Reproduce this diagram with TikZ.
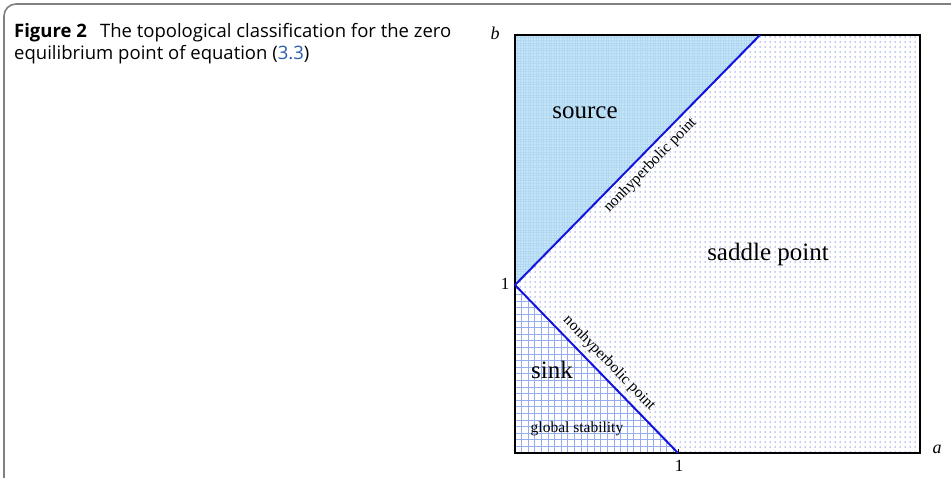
\documentclass[tikz,border=0pt]{standalone}
\usepackage{fontspec}
\setmainfont{Liberation Serif}
\newfontfamily\capfont{Open Sans}
\usetikzlibrary{patterns.meta}
\definecolor{srcblue}{HTML}{C5E5F8}
\definecolor{srcline}{HTML}{B2D8F2}
\definecolor{gridblue}{HTML}{96AEEE}
\definecolor{dotblue}{HTML}{7C93E6}
\definecolor{lineblue}{HTML}{1414DC}
\definecolor{capblue}{HTML}{2A5DB0}
\definecolor{framegray}{HTML}{808080}
\tikzset{
  lbl/.style={inner sep=0pt, text=black},
  big/.style={lbl, font=\fontsize{25}{25}\selectfont},
  small/.style={lbl, font=\fontsize{15.5}{15.5}\selectfont},
  tick/.style={lbl, font=\fontsize{17}{17}\selectfont},
  axis/.style={lbl, font=\itshape\fontsize{18}{18}\selectfont},
  bline/.style={lineblue, line width=2pt},
}
\begin{document}
\begin{tikzpicture}[x=1pt,y=-1pt]
\useasboundingbox (0,0) rectangle (951,477);
% caption frame
\draw[framegray, line width=1.6pt, rounded corners=12pt] (4,482) -- (4,4) -- (956,4);
\node[anchor=north west, align=left, inner sep=0pt,
      font=\capfont\fontsize{18.5}{22}\selectfont] (cap) at (14,23)
  {\textbf{Figure 2}\hspace{0.45em} The topological classification for the zero\\
   equilibrium point of equation (\textcolor{capblue}{3.3})};
% key points
\coordinate (O) at (515,453);
\coordinate (B1) at (515,285);
\coordinate (A1) at (678,453);
\coordinate (T) at (760,35);
\coordinate (TL) at (515,35);
\coordinate (TR) at (920,35);
\coordinate (BR) at (920,453);
% saddle region (dots)
\fill[pattern={Dots[distance=5pt, radius=0.75pt]}, pattern color=dotblue]
  (B1) -- (T) -- (TR) -- (BR) -- (A1) -- cycle;
% source region
\fill[srcblue] (TL) -- (T) -- (B1) -- cycle;
\begin{scope}
  \clip (TL) -- (T) -- (B1) -- cycle;
  \foreach \i in {0,...,100} {
    \draw[srcline, line width=0.5pt] (515+\i*2.6,35) -- (515+\i*2.6,285);
  }
  \foreach \i in {0,...,100} {
    \draw[srcline, line width=0.35pt] (515,35+\i*2.6) -- (760,35+\i*2.6);
  }
\end{scope}
% sink region (grid)
\begin{scope}
  \clip (B1) -- (A1) -- (O) -- cycle;
  \foreach \i in {0,...,26} {
    \draw[gridblue, line width=0.7pt] (515+\i*6.6,285) -- (515+\i*6.6,453);
    \draw[gridblue, line width=0.7pt] (515,453-\i*6.6) -- (678,453-\i*6.6);
  }
\end{scope}
% frame and axes
\draw[black, line width=1.1pt] (TL) rectangle (BR);
\draw[black, line width=2pt] (TL) -- (O) -- (BR);
\draw[black, line width=1pt] (A1) -- ++(0,-4);
% boundary lines
\draw[bline] (B1) -- node[small, sloped, pos=0.515, below=5pt] (nh1) {nonhyperbolic point} (T);
\draw[bline] (B1) -- node[small, sloped, pos=0.52, above=5pt] (nh2) {nonhyperbolic point} (A1);
% labels
\node[axis] (lb) at (495,33) {b};
\node[axis] (la) at (937,449) {a};
\node[tick] (ly) at (505,284) {1};
\node[tick] (lx) at (679,466) {1};
\node[big] (src) at (585,113) {source};
\node[big] (sad) at (768,254) {saddle point};
\node[big] (snk) at (552,370) {sink};
\node[small] (glob) at (577,429) {global stability};
\end{tikzpicture}
\end{document}
